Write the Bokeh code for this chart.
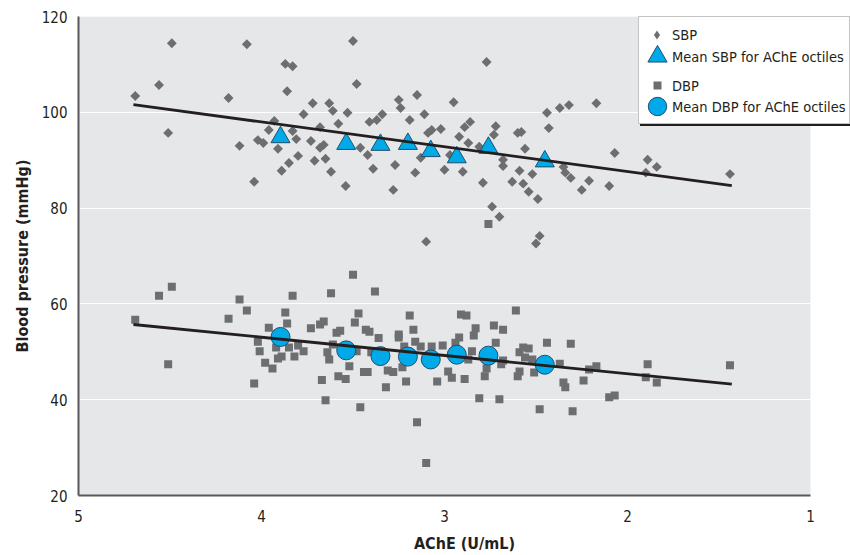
import math
from bokeh.plotting import figure
from bokeh.models import Range1d, Legend, LegendItem, FixedTicker, BoxAnnotation
from bokeh.embed import file_html
from bokeh.resources import INLINE

# ---------------- data ----------------
sbp_ache = [4.49, 4.08, 3.50, 3.87, 3.83, 4.56, 3.48, 4.69, 4.18, 3.86, 3.72, 3.63, 3.61, 3.53, 3.77,
            4.51, 3.93, 3.96, 3.83, 3.68, 3.58, 3.41, 3.37, 4.02, 3.99, 3.81, 3.73, 3.66, 3.68, 4.12,
            3.91, 3.85, 3.80, 3.71, 3.65, 3.89, 3.62, 3.42, 3.46, 3.39, 4.04, 3.54, 2.77, 3.15, 3.25,
            3.24, 2.95, 3.34, 3.11, 3.19, 3.02, 3.07, 3.09, 2.86, 2.89, 2.72, 2.92, 2.44, 2.37, 2.32,
            2.17, 2.43, 2.60, 2.58, 2.56, 2.73, 2.81, 2.87, 3.13, 3.27, 3.16, 3.00, 2.90, 2.97, 2.68,
            2.68, 2.59, 2.52, 2.63, 2.57, 2.54, 2.49, 2.79, 3.28, 2.35, 2.34, 2.31, 2.21, 2.25, 2.10,
            2.07, 1.89, 1.90, 2.74, 2.70, 3.10, 2.48, 2.50, 1.84, 1.44]
sbp_val = [114.4, 114.2, 114.9, 110.1, 109.6, 105.7, 105.9, 103.4, 103.0, 104.4, 101.9, 101.9, 100.3, 99.9, 99.6,
           95.7, 98.2, 96.3, 96.1, 96.9, 97.6, 98.0, 98.4, 94.2, 93.6, 94.4, 94.0, 93.2, 92.6, 93.0,
           92.4, 89.4, 90.9, 89.9, 90.3, 87.8, 87.6, 91.1, 92.6, 88.2, 85.5, 84.6, 110.5, 103.6, 102.6,
           100.9, 102.1, 99.6, 99.6, 98.4, 96.5, 96.3, 95.7, 98.0, 96.9, 97.1, 94.9, 99.9, 100.9, 101.5,
           101.9, 96.7, 95.7, 95.9, 92.4, 95.3, 92.8, 93.6, 90.5, 89.0, 87.4, 88.0, 87.6, 91.1, 90.1,
           88.8, 87.8, 87.1, 85.5, 85.1, 83.4, 81.9, 85.3, 83.8, 88.6, 87.4, 86.3, 85.7, 83.8, 84.6,
           91.5, 90.1, 87.4, 80.3, 78.2, 73.0, 74.2, 72.6, 88.6, 87.1]

dbp_ache = [4.49, 4.56, 4.69, 4.51, 4.12, 4.08, 4.18, 3.50, 3.83, 3.62, 3.38, 3.87, 3.86, 3.96, 4.02,
            4.01, 3.92, 3.85, 3.80, 3.77, 3.82, 3.91, 3.89, 3.98, 3.94, 4.04, 3.66, 3.68, 3.73, 3.59,
            3.57, 3.47, 3.49, 3.43, 3.41, 3.36, 3.61, 3.64, 3.63, 3.48, 3.40, 3.52, 3.58, 3.54, 3.67,
            3.44, 3.42, 3.65, 3.46, 3.19, 3.17, 3.25, 3.25, 3.16, 3.13, 3.22, 3.07, 3.01, 2.92, 2.94,
            2.91, 2.88, 2.83, 2.84, 2.85, 2.87, 2.73, 2.68, 2.72, 2.61, 2.57, 2.54, 2.59, 2.56, 2.52,
            2.68, 2.69, 2.77, 2.78, 2.60, 2.59, 2.51, 2.44, 2.37, 2.31, 2.35, 2.34, 2.24, 2.21, 2.17,
            2.10, 2.07, 1.89, 1.90, 3.31, 3.28, 3.23, 3.21, 3.32, 3.04, 2.98, 2.96, 2.89, 2.81, 2.70,
            2.48, 2.30, 3.15, 3.10, 1.84, 1.44, 2.76]
dbp_val = [63.6, 61.7, 56.7, 47.4, 60.9, 58.6, 56.9, 66.1, 61.7, 62.2, 62.6, 58.2, 55.9, 55.0, 52.1,
           50.1, 50.9, 50.9, 51.3, 50.1, 49.0, 48.6, 49.0, 47.7, 46.5, 43.4, 56.3, 55.7, 54.9, 54.0,
           54.4, 58.0, 56.1, 54.6, 54.2, 52.9, 51.5, 49.9, 48.4, 50.1, 49.9, 47.0, 44.9, 44.3, 44.1,
           45.8, 45.8, 39.9, 38.4, 57.6, 54.6, 53.6, 53.0, 52.1, 51.1, 51.1, 51.1, 51.3, 53.0, 51.9,
           57.8, 57.6, 54.9, 53.4, 50.1, 48.4, 55.5, 54.6, 51.9, 58.6, 50.9, 50.7, 49.9, 48.8, 48.4,
           48.2, 47.4, 46.5, 44.9, 44.9, 45.9, 45.7, 51.9, 47.5, 51.7, 43.6, 42.6, 44.0, 46.3, 47.0,
           40.5, 40.9, 47.4, 44.7, 46.1, 45.8, 46.8, 43.8, 42.6, 43.8, 45.9, 44.6, 44.3, 40.3, 40.1,
           38.0, 37.6, 35.3, 26.8, 43.6, 47.2, 76.7]

octile_ache_sbp = [3.896, 3.537, 3.350, 3.200, 3.075, 2.933, 2.760, 2.452]
octile_sbp = [94.8, 93.4, 93.2, 93.4, 91.9, 90.6, 92.6, 89.75]
octile_ache_dbp = [3.896, 3.537, 3.350, 3.200, 3.075, 2.933, 2.760, 2.452]
octile_dbp = [53.1, 50.3, 49.1, 49.0, 48.4, 49.4, 49.2, 47.3]

fit_ache = [4.70, 1.43]
fit_sbp = [101.6, 84.7]
fit_dbp = [55.7, 43.25]

legend_labels = ["SBP", "Mean SBP for AChE octiles", "DBP", "Mean DBP for AChE octiles"]

y_ticks = [20, 40, 60, 80, 100, 120]
x_ticks = [5, 4, 3, 2, 1]
x_min, x_max = 1, 5
y_min, y_max = 20, 120

# ---------------- styles ----------------
FONT = "DejaVu Sans Condensed, Roboto"
GRAY = "#6d6e71"
BLUE = "#00aae8"
BLUE_LINE = "#1f4e6e"
TEXT = "#231f20"

# frame extends a little past x=1 so the legend can overhang the gray plot area
p = figure(width=850, height=555,
           x_range=Range1d(5, 0.7814), y_range=Range1d(y_min, y_max),
           output_backend="svg", toolbar_location=None,
           min_border_left=78, min_border_right=0,
           min_border_top=16, min_border_bottom=59)

p.background_fill_color = "white"
p.border_fill_color = "white"
p.outline_line_color = None

# gray plot area limited to the axes' extent
p.add_layout(BoxAnnotation(left=x_min, right=x_max, bottom=y_min, top=y_max,
                           fill_color="#e6e7e8", fill_alpha=1, line_color=None,
                           level="image"))

p.xgrid.grid_line_color = None
p.ygrid.grid_line_color = "white"
p.ygrid.grid_line_width = 1.2

p.yaxis.ticker = FixedTicker(ticks=y_ticks)
p.xaxis.ticker = FixedTicker(ticks=x_ticks)
p.xaxis.bounds = (x_min, x_max)

for ax in (p.xaxis[0], p.yaxis[0]):
    ax.axis_line_color = "#58595b"
    ax.axis_line_width = 2
    ax.major_tick_line_color = None
    ax.minor_tick_line_color = None
    ax.major_label_text_font = FONT
    ax.major_label_text_font_size = "15px"
    ax.major_label_text_color = TEXT
    ax.axis_label_text_font = FONT
    ax.axis_label_text_font_size = "16px"
    ax.axis_label_text_font_style = "bold"
    ax.axis_label_text_color = TEXT

p.xaxis.axis_label = "AChE (U/mL)"
p.yaxis.axis_label = "Blood pressure (mmHg)"
p.xaxis.major_label_standoff = 8
p.xaxis.axis_label_standoff = 9
p.yaxis.major_label_standoff = 5
p.yaxis.axis_label_standoff = 7

r_sbp = p.scatter(sbp_ache, sbp_val, marker="square", size=7, angle=math.pi / 4,
                  fill_color=GRAY, line_color=None)
r_dbp = p.scatter(dbp_ache, dbp_val, marker="square", size=8,
                  fill_color=GRAY, line_color=None)

r_msbp = p.scatter(octile_ache_sbp, octile_sbp, marker="triangle", size=19,
                   fill_color=BLUE, line_color=BLUE_LINE, line_width=1)
r_mdbp = p.scatter(octile_ache_dbp, octile_dbp, marker="circle", size=19,
                   fill_color=BLUE, line_color=BLUE_LINE, line_width=1)

p.line(fit_ache, fit_sbp, line_color=TEXT, line_width=2.8)
p.line(fit_ache, fit_dbp, line_color=TEXT, line_width=2.8)

# legend-only glyphs (zero size on the plot; the legend sizes them itself)
leg_sbp = p.scatter(sbp_ache[:1], sbp_val[:1], marker="diamond", size=0,
                    fill_color=GRAY, line_color=None)
leg_blank = p.scatter([], [], marker="circle", fill_alpha=0, line_alpha=0)


def base_legend(label, rend, loc):
    lg = Legend(items=[LegendItem(label=label, renderers=[rend])], location=loc)
    lg.padding = 0
    lg.margin = 0
    lg.spacing = 0
    lg.label_standoff = 0
    lg.border_line_color = None
    lg.background_fill_alpha = 0
    return lg


def box_legend(loc, fill, border):
    lg = base_legend(" ", leg_blank, loc)
    lg.glyph_width = 10
    lg.glyph_height = 106
    lg.label_height = 106
    lg.label_width = 200
    lg.background_fill_color = fill
    lg.background_fill_alpha = 1
    lg.border_line_color = border
    lg.border_line_width = 1
    lg.label_text_font_size = "1px"
    return lg


p.add_layout(box_legend((562, 369), TEXT, TEXT), "center")          # shadow
p.add_layout(box_legend((560, 371), "white", "#8a8a8a"), "center")  # box


def glyph_legend(rend, box, loc):
    lg = base_legend(" ", rend, loc)
    lg.glyph_width = box
    lg.glyph_height = box
    lg.label_height = box
    lg.label_width = 1
    lg.label_text_font_size = "1px"
    return lg


def text_legend(label, loc):
    lg = base_legend(label, leg_blank, loc)
    lg.glyph_width = 1
    lg.glyph_height = 20
    lg.label_height = 20
    lg.label_text_font = FONT
    lg.label_text_font_size = "14.5px"
    lg.label_text_color = TEXT
    return lg


p.add_layout(glyph_legend(leg_sbp, 23, (567, 449)), "center")
p.add_layout(glyph_legend(r_msbp, 48, (555, 415)), "center")
p.add_layout(glyph_legend(r_dbp, 20, (569, 400)), "center")
p.add_layout(glyph_legend(r_mdbp, 46, (556, 366)), "center")

p.add_layout(text_legend(legend_labels[0], (593, 450)), "center")
p.add_layout(text_legend(legend_labels[1], (593, 428)), "center")
p.add_layout(text_legend(legend_labels[2], (593, 399)), "center")
p.add_layout(text_legend(legend_labels[3], (593, 378)), "center")

open("out.html", "w").write(file_html(p, INLINE))
